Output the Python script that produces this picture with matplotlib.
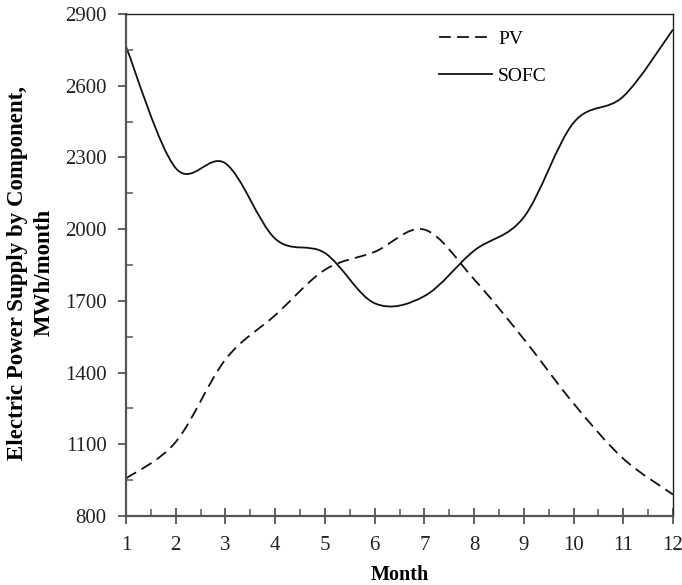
import matplotlib
matplotlib.use("Agg")
import matplotlib.pyplot as plt
import numpy as np
from matplotlib.path import Path
from matplotlib.patches import PathPatch
from matplotlib.lines import Line2D

plt.rcParams['font.family'] = ['Liberation Serif', 'DejaVu Serif']
plt.rcParams['lines.scale_dashes'] = False

# monthly values
months = [1, 2, 3, 4, 5, 6, 7, 8, 9, 10, 11, 12]
pv = [957, 1110, 1455, 1640, 1830, 1905, 1998, 1790, 1540, 1271, 1040, 890]
sofc = [2763, 2255, 2275, 1960, 1900, 1690, 1720, 1910, 2050, 2445, 2555, 2835]
yticks = [800, 1100, 1400, 1700, 2000, 2300, 2600, 2900]
yminor = [950, 1250, 1550, 1850, 2150, 2450, 2750]

# smoothed line like a spreadsheet "smooth line": Catmull-Rom as cubic Bezier
def smooth_path(x, y):
    p = np.column_stack([x, y]).astype(float)
    n = len(p)
    verts = [p[0]]
    codes = [Path.MOVETO]
    for i in range(n - 1):
        p0 = p[i - 1] if i > 0 else p[i]
        p3 = p[i + 2] if i + 2 < n else p[i + 1]
        c1 = p[i] + (p[i + 1] - p0) / 6
        c2 = p[i + 1] - (p3 - p[i]) / 6
        verts += [c1, c2, p[i + 1]]
        codes += [Path.CURVE4] * 3
    return Path(verts, codes)

fig = plt.figure(figsize=(6.82, 5.85), dpi=100)
ax = fig.add_axes([0.1848, 0.1179, 0.8020, 0.8582])

ax.add_patch(PathPatch(smooth_path(months, pv), fill=False, edgecolor='#111111',
                       lw=1.3, linestyle=(0, (8.5, 4.5)), capstyle='butt'))
ax.add_patch(PathPatch(smooth_path(months, sofc), fill=False, edgecolor='#111111',
                       lw=1.3))

ax.set_xlim(1, 12)
ax.set_ylim(800, 2900)
ax.set_xticks(months)
ax.set_xticks(np.arange(1.5, 12, 1.0), minor=True)
ax.set_yticks(yticks)
ax.set_yticks(yminor, minor=True)

gray = '#555555'
for s in ['left', 'bottom']:
    ax.spines[s].set_color(gray)
    ax.spines[s].set_linewidth(1.6)
for s in ['top', 'right']:
    ax.spines[s].set_color('#222222')
    ax.spines[s].set_linewidth(1.0)

ax.tick_params(axis='y', which='major', direction='out', length=6, width=1.3,
               color=gray, labelsize=15, pad=8)
ax.tick_params(axis='y', which='minor', direction='in', length=5, width=1.1, color=gray)
ax.tick_params(axis='x', which='major', direction='inout', length=11, width=1.3,
               color=gray, labelsize=15, pad=9)
ax.tick_params(axis='x', which='minor', direction='in', length=5, width=1.1, color=gray)
ax.tick_params(labelcolor='#222222')

ax.set_xlabel('Month', fontsize=14.5, fontweight='bold', labelpad=7)
ax.set_ylabel('Electric Power Supply by Component,\nMWh/month', fontsize=16.5,
              fontweight='bold', linespacing=1.35)
ax.yaxis.set_label_coords(-0.130, 0.485)

handles = [Line2D([], [], color='#111111', lw=1.3, linestyle=(0, (8.5, 4.5))),
           Line2D([], [], color='#111111', lw=1.3)]
ax.legend(handles, ['PV', 'SOFC'], loc='upper left', bbox_to_anchor=(0.54, 1.002),
          frameon=False, fontsize=14, handlelength=2.75, handletextpad=0.3,
          labelspacing=1.0)

fig.savefig('out.png', dpi=100)
